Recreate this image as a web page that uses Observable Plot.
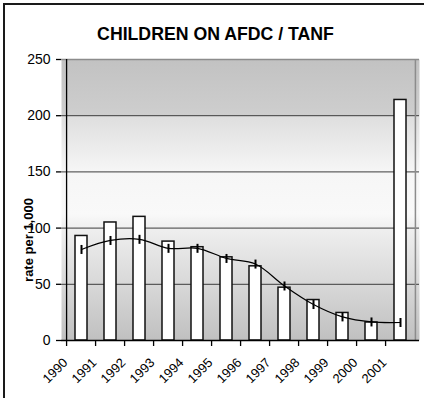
<!DOCTYPE html>
<html>
<head>
<meta charset="utf-8">
<script src="https://cdn.jsdelivr.net/npm/d3@7"></script>
<script src="https://cdn.jsdelivr.net/npm/@observablehq/plot@0.6"></script>
<style>
  html, body { margin: 0; padding: 0; background: #fff; }
  #wrap { position: relative; width: 424px; height: 398px; overflow: hidden; font-family: "Liberation Sans", Arial, sans-serif; }
  #frame { position: absolute; left: 3px; top: 3px; width: 440px; height: 420px; border: 2px solid #1a1a1a; box-sizing: border-box; pointer-events: none; }
  #wrap svg { position: absolute; left: 0; top: 0; }
</style>
</head>
<body>
<div id="wrap"><div id="frame"></div></div>
<script>
const title = "CHILDREN ON AFDC / TANF";
const yLabel = "rate per 1,000";
const years = ["1990","1991","1992","1993","1994","1995","1996","1997","1998","1999","2000","2001"];
const barValues = [93, 105, 110, 88, 83, 74, 66, 47, 36, 24.5, 16, 214];
const lineValues = [81, 89, 90, 82, 82, 73, 68, 48.5, 32, 21, 16.5, 16];
const yTicks = [0, 50, 100, 150, 200, 250];
const gridValues = [50, 100, 150, 200];

const data = years.map((y, i) => ({year: y, bar: barValues[i], line: lineValues[i]}));

const W = 424, H = 398;
const mL = 61, mR = 5, mT = 59, mB = 58;
const plotW = W - mL - mR;
const step = plotW / years.length;

const vtick = {
  draw(context, size) {
    context.moveTo(0, -4.5);
    context.lineTo(0, 4.5);
  }
};

const chart = Plot.plot({
  width: W,
  height: H,
  marginLeft: mL,
  marginRight: mR,
  marginTop: mT,
  marginBottom: mB,
  style: {fontFamily: "'Liberation Sans', Arial, sans-serif", background: "transparent", color: "#000"},
  x: {domain: years, paddingInner: 0.6, paddingOuter: 0.3, axis: null},
  y: {domain: [0, 250], axis: null},
  marks: [
    Plot.frame({fill: "url(#bgGrad)", stroke: "none"}),
    Plot.ruleY(gridValues, {stroke: "#3c3c3c", strokeWidth: 1}),
    Plot.ruleY([250], {stroke: "#8c8c8c", strokeWidth: 1.5}),
    Plot.ruleX([years[years.length - 1]], {dx: step / 2, stroke: "#8c8c8c", strokeWidth: 1.5}),
    Plot.barY(data, {x: "year", y: "bar", fill: "white", stroke: "#111", strokeWidth: 1.5}),
    Plot.line(data, {x: "year", y: "line", stroke: "#000", strokeWidth: 1.2, curve: "catmull-rom"}),
    Plot.dot(data, {x: "year", y: "line", symbol: vtick, stroke: "#000", strokeWidth: 2, fill: "none"}),
    Plot.ruleY([0], {stroke: "#000", strokeWidth: 1.3}),
    Plot.ruleX([years[0]], {dx: -step / 2, stroke: "#000", strokeWidth: 1.3}),
    // x-axis tick marks at category boundaries
    Plot.ruleX(years, {dx: -step / 2, y1: 0, y2: 0, insetBottom: -6, stroke: "#000", strokeWidth: 1.3}),
    // y-axis tick marks
    Plot.tickY(yTicks, {y: d => d, insetLeft: -5, insetRight: plotW, stroke: "#000", strokeWidth: 1.3}),
    // y tick labels
    Plot.text(yTicks, {y: d => d, text: d => String(d), frameAnchor: "left", textAnchor: "end", dx: -11, fontSize: 14, fill: "#000"}),
    // x tick labels
    Plot.text(years, {x: d => d, text: d => d, frameAnchor: "bottom", textAnchor: "end", lineAnchor: "middle", rotate: -45, dx: -16, dy: 20, fontSize: 13, fill: "#000"}),
    Plot.text([yLabel], {frameAnchor: "left", textAnchor: "middle", dx: -33, dy: 40, rotate: -90, fontSize: 13, fontWeight: "bold", fill: "#000"}),
    Plot.text([title], {frameAnchor: "top", dx: -25, dy: -25.5, lineAnchor: "middle", fontSize: 17.7, fontWeight: "bold", fill: "#000"})
  ]
});

const svg = d3.select(chart);
const defs = svg.insert("defs", ":first-child");
const grad = defs.append("linearGradient").attr("id", "bgGrad").attr("x1", 0).attr("y1", 0).attr("x2", 0).attr("y2", 1);
[[0, "#c2c2c2"], [0.199, "#cecece"], [0.2, "#dedede"], [0.4, "#f6f6f6"], [0.55, "#f9f9f9"], [0.6, "#efefef"], [0.8, "#d8d8d8"], [1, "#c0c0c0"]]
  .forEach(([o, c]) => grad.append("stop").attr("offset", o).attr("stop-color", c));

document.getElementById("wrap").prepend(chart);
</script>
</body>
</html>
